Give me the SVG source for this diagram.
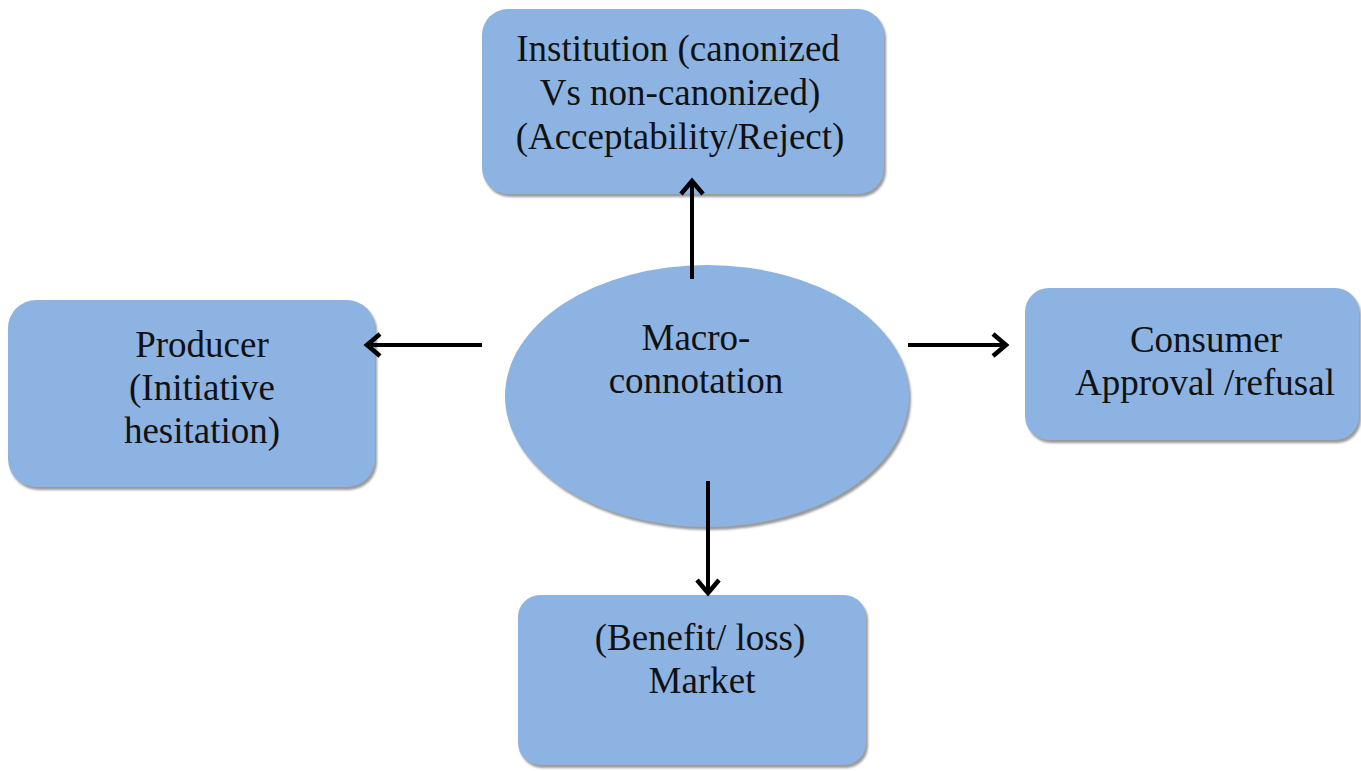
<svg xmlns="http://www.w3.org/2000/svg" width="1361" height="771" viewBox="0 0 1361 771">
  <defs>
    <style>
      .box { fill: #8db3e2; }
      .shadow { fill: #9a9a9a; filter: url(#soft); }
      .lbl { font-family: "Liberation Serif", "Times New Roman", serif; font-size: 37px; fill: #111; text-anchor: middle; }
      .conn { stroke: #000; stroke-width: 4; fill: none; stroke-linecap: square; }
      .head { stroke: #000; stroke-width: 4.5; fill: none; stroke-linejoin: miter; }
    </style>
    <filter id="soft" x="-5%" y="-5%" width="110%" height="110%">
      <feGaussianBlur stdDeviation="1.2"/>
    </filter>
  </defs>
  <rect width="1361" height="771" fill="#fff"/>

  <!-- top node -->
  <g id="institution">
    <rect class="shadow" x="484" y="12" width="402" height="185" rx="26"/>
    <rect class="box" x="482" y="9" width="402" height="185" rx="26"/>
    <text class="lbl" x="678" y="61">Institution (canonized</text>
    <text class="lbl" x="680" y="105">Vs non-canonized)</text>
    <text class="lbl" x="680" y="149">(Acceptability/Reject)</text>
  </g>

  <!-- left node -->
  <g id="producer">
    <rect class="shadow" x="10" y="303" width="367" height="187" rx="28"/>
    <rect class="box" x="8" y="300" width="367" height="187" rx="28"/>
    <text class="lbl" x="202" y="357">Producer</text>
    <text class="lbl" x="202" y="400">(Initiative</text>
    <text class="lbl" x="202" y="443">hesitation)</text>
  </g>

  <!-- right node -->
  <g id="consumer">
    <rect class="shadow" x="1027" y="291" width="334" height="152" rx="24"/>
    <rect class="box" x="1025" y="288" width="334" height="152" rx="24"/>
    <text class="lbl" x="1206" y="352">Consumer</text>
    <text class="lbl" x="1205" y="395">Approval /refusal</text>
  </g>

  <!-- bottom node -->
  <g id="market">
    <rect class="shadow" x="520" y="598" width="348" height="170" rx="22"/>
    <rect class="box" x="518" y="595" width="348" height="170" rx="22"/>
    <text class="lbl" x="700" y="650">(Benefit/ loss)</text>
    <text class="lbl" x="702" y="693">Market</text>
  </g>

  <!-- centre node -->
  <g id="macro">
    <ellipse class="shadow" cx="709" cy="399" rx="202" ry="131"/>
    <ellipse class="box" cx="707" cy="396" rx="202" ry="131"/>
    <text class="lbl" x="696" y="350">Macro-</text>
    <text class="lbl" x="696" y="393">connotation</text>
  </g>

  <!-- connectors -->
  <g id="connectors">
    <line class="conn" x1="692" y1="277" x2="692" y2="182"/>
    <polyline class="head" points="681,194 692,181 703,194"/>

    <line class="conn" x1="480" y1="345" x2="368" y2="345"/>
    <polyline class="head" points="380,334 367,345 380,356"/>

    <line class="conn" x1="910" y1="345" x2="1005" y2="345"/>
    <polyline class="head" points="993,334 1006,345 993,356"/>

    <line class="conn" x1="708" y1="483" x2="708" y2="592"/>
    <polyline class="head" points="697,580 708,593 719,580"/>
  </g>
</svg>
